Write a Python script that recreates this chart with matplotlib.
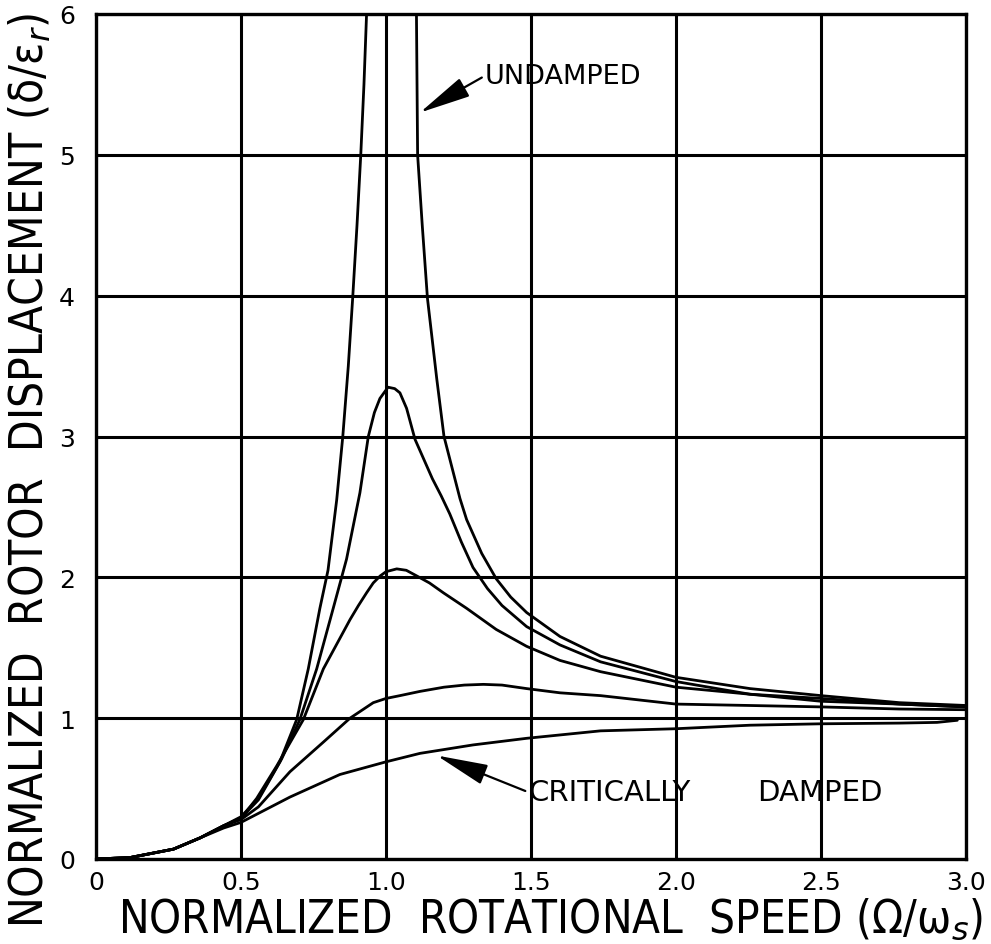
import os
import matplotlib
matplotlib.use("Agg")
import matplotlib.pyplot as plt
from matplotlib import font_manager as fm
from matplotlib.font_manager import FontProperties

# Normalized rotor response vs. normalized rotational speed, read for each damping level
undamped_low_x = [0.0, 0.117, 0.267, 0.359, 0.44, 0.5, 0.56, 0.634, 0.692, 0.732, 0.772, 0.80, 0.83, 0.851, 0.87, 0.885, 0.90, 0.913, 0.924, 0.933]
undamped_low_y = [0.0, 0.01, 0.07, 0.15, 0.236, 0.30, 0.43, 0.69, 0.99, 1.35, 1.78, 2.05, 2.55, 3.0, 3.5, 3.98, 4.5, 5.0, 5.5, 6.0]

undamped_high_x = [1.105, 1.107, 1.109, 1.125, 1.143, 1.175, 1.20, 1.23, 1.255, 1.278, 1.33, 1.38, 1.43, 1.485, 1.60, 1.74, 2.0, 2.255, 2.5, 2.77, 3.0]
undamped_high_y = [6.0, 5.5, 5.0, 4.5, 3.98, 3.41, 3.0, 2.76, 2.56, 2.41, 2.17, 1.99, 1.86, 1.75, 1.58, 1.44, 1.29, 1.21, 1.16, 1.11, 1.09]

light_x = [0.0, 0.117, 0.267, 0.359, 0.44, 0.5, 0.56, 0.64, 0.703, 0.761, 0.818, 0.847, 0.864, 0.91, 0.939, 0.96, 0.979, 1.007, 1.03, 1.048, 1.071, 1.10, 1.13, 1.16, 1.19, 1.22, 1.26, 1.30, 1.35, 1.40, 1.485, 1.60, 1.74, 2.0, 2.255, 2.5, 2.77, 3.0]
light_y = [0.0, 0.01, 0.07, 0.15, 0.236, 0.29, 0.42, 0.71, 0.99, 1.35, 1.78, 2.0, 2.13, 2.6, 3.0, 3.17, 3.27, 3.35, 3.34, 3.31, 3.20, 2.98, 2.84, 2.70, 2.58, 2.45, 2.25, 2.07, 1.92, 1.80, 1.65, 1.52, 1.40, 1.26, 1.17, 1.14, 1.10, 1.08]

moderate_x = [0.0, 0.117, 0.267, 0.359, 0.44, 0.5, 0.554, 0.623, 0.715, 0.784, 0.876, 0.905, 0.933, 0.956, 0.98, 1.0, 1.037, 1.07, 1.106, 1.15, 1.198, 1.278, 1.38, 1.485, 1.60, 1.74, 2.0, 2.255, 2.5, 2.77, 3.0]
moderate_y = [0.0, 0.01, 0.07, 0.15, 0.236, 0.29, 0.43, 0.66, 0.99, 1.35, 1.70, 1.80, 1.89, 1.96, 2.01, 2.04, 2.06, 2.05, 2.01, 1.96, 1.89, 1.78, 1.63, 1.51, 1.41, 1.33, 1.22, 1.17, 1.12, 1.10, 1.08]

heavy_x = [0.0, 0.117, 0.267, 0.359, 0.44, 0.5, 0.56, 0.669, 0.784, 0.876, 0.956, 1.0, 1.048, 1.117, 1.2, 1.27, 1.336, 1.40, 1.485, 1.60, 1.74, 2.0, 2.255, 2.5, 2.77, 3.0]
heavy_y = [0.0, 0.01, 0.07, 0.15, 0.236, 0.28, 0.37, 0.62, 0.83, 1.0, 1.11, 1.14, 1.16, 1.19, 1.22, 1.235, 1.24, 1.235, 1.21, 1.18, 1.16, 1.10, 1.09, 1.08, 1.065, 1.06]

critical_x = [0.0, 0.117, 0.267, 0.359, 0.44, 0.5, 0.669, 0.841, 1.0, 1.117, 1.3, 1.485, 1.74, 2.0, 2.255, 2.5, 2.77, 2.90, 2.97]
critical_y = [0.0, 0.01, 0.07, 0.15, 0.22, 0.26, 0.44, 0.60, 0.69, 0.75, 0.81, 0.857, 0.91, 0.925, 0.95, 0.96, 0.965, 0.97, 0.985]

x_ticks = [0, 0.5, 1.0, 1.5, 2.0, 2.5, 3.0]
x_tick_labels = ["0", "0.5", "1.0", "1.5", "2.0", "2.5", "3.0"]
y_ticks = [0, 1, 2, 3, 4, 5, 6]
y_tick_labels = ["0", "1", "2", "3", "4", "5", "6"]

x_title = "NORMALIZED  ROTATIONAL  SPEED (Ω/ω$_s$)"
y_title = "NORMALIZED  ROTOR  DISPLACEMENT (δ/ε$_r$)"


def narrow_font():
    """Prefer an installed condensed sans face for the hand-lettered titles."""
    wanted = ["liberationsansnarrow-regular.ttf", "dejavusanscondensed.ttf",
              "notosans-condensed.ttf", "robotocondensed-regular.ttf",
              "opensans-condensedregular.ttf", "opensans_condensed-regular.ttf"]
    files = {os.path.basename(f.fname).lower(): f.fname for f in fm.fontManager.ttflist}
    for w in wanted:
        if w in files:
            return FontProperties(fname=files[w])
    for f in fm.fontManager.ttflist:
        b = os.path.basename(f.fname).lower()
        if ("condensed" in b or "narrow" in b) and "bold" not in b and "italic" not in b \
                and "light" not in b and "mono" not in b and "serif" not in b:
            return FontProperties(fname=f.fname)
    return FontProperties(family="DejaVu Sans")


fig = plt.figure(figsize=(9.91, 9.45), dpi=100)
ax = fig.add_axes([96 / 991, 1 - 860 / 945, 870 / 991, 845 / 945])

ax.set_xlim(0, 3.0)
ax.set_ylim(0, 6)

ax.set_xticks(x_ticks)
ax.set_xticklabels(x_tick_labels, fontsize=18, family="DejaVu Sans")
ax.set_yticks(y_ticks)
ax.set_yticklabels(y_tick_labels, fontsize=18, family="DejaVu Sans")
ax.tick_params(axis="both", length=0)
ax.tick_params(axis="x", pad=8)
ax.tick_params(axis="y", pad=15)

ax.grid(True, color="black", linewidth=2.2)
ax.set_axisbelow(True)
for sp in ax.spines.values():
    sp.set_linewidth(2.4)
    sp.set_color("black")

curve_kw = dict(color="black", linewidth=2.0, solid_joinstyle="round", solid_capstyle="round")
ax.plot(undamped_low_x, undamped_low_y, **curve_kw)
ax.plot(undamped_high_x, undamped_high_y, **curve_kw)
ax.plot(light_x, light_y, **curve_kw)
ax.plot(moderate_x, moderate_y, **curve_kw)
ax.plot(heavy_x, heavy_y, **curve_kw)
ax.plot(critical_x, critical_y, **curve_kw)

arrow_kw = dict(arrowstyle="-|>,head_length=1.6,head_width=0.32", color="black",
                lw=1.6, mutation_scale=20, shrinkA=0, shrinkB=0, relpos=(0.0, 0.5))
ax.annotate("UNDAMPED", xy=(1.117, 5.30), xytext=(1.34, 5.56),
            fontsize=19.5, family="DejaVu Sans", ha="left", va="center",
            arrowprops=arrow_kw)
ax.annotate("CRITICALLY", xy=(1.175, 0.735), xytext=(1.49, 0.475),
            fontsize=21, family="DejaVu Sans", ha="left", va="center",
            arrowprops=arrow_kw)
ax.text(2.28, 0.475, "DAMPED", fontsize=21, family="DejaVu Sans", ha="left", va="center")

title_font = narrow_font()
xt = fig.text(551 / 991, 1 - 920 / 945, x_title, fontproperties=title_font,
              fontsize=30, ha="center", va="center")
yt = fig.text(30 / 991, 1 - 470 / 945, y_title, fontproperties=title_font,
              fontsize=30, ha="center", va="center", rotation=90)

# scale the axis titles so they span the same length as the lettering on the sheet
renderer = fig.canvas.get_renderer()
for t, length, cap in ((xt, 865, 33), (yt, 935, 33)):
    bb = t.get_window_extent(renderer)
    span = max(bb.width, bb.height)
    t.set_fontsize(min(t.get_fontsize() * length / span, cap))

fig.savefig("out.png", dpi=100, facecolor="white")
